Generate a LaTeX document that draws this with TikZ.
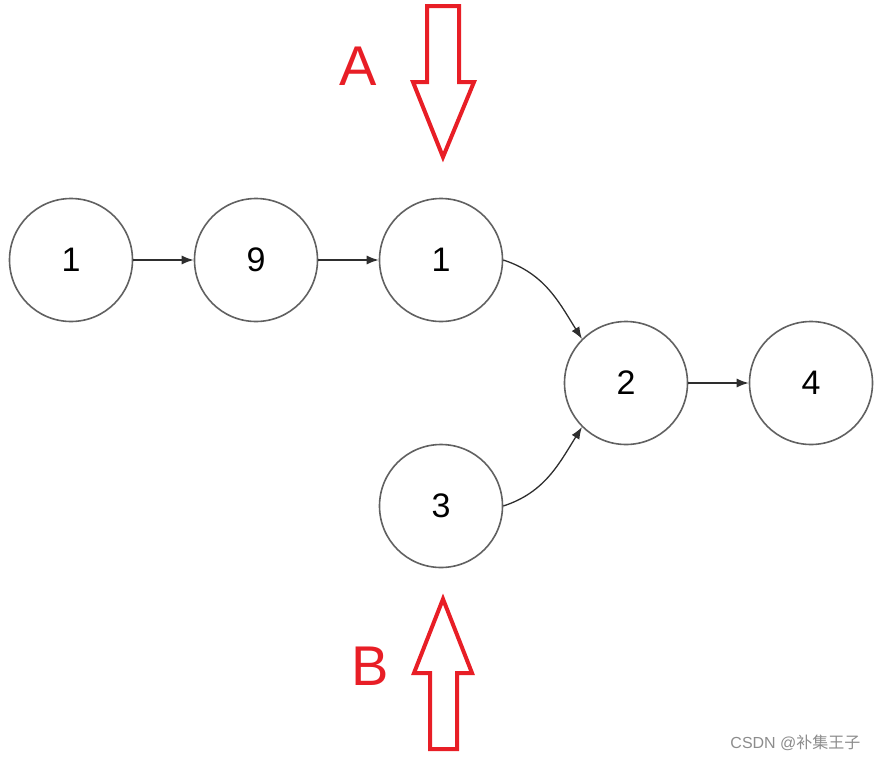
\documentclass[tikz,border=0pt]{standalone}
\usepackage{fontspec}
\setmainfont{Liberation Sans}
\newfontfamily\cjk{Noto Sans CJK SC}
\usetikzlibrary{arrows.meta}
\definecolor{markred}{RGB}{232,30,38}

\begin{document}
\begin{tikzpicture}[x=1pt, y=-1pt,
  ring/.style={circle, draw=black!62, line width=1.6pt, minimum size=123pt, inner sep=0pt,
    font=\fontsize{34}{34}\selectfont},
  link/.style={-{Latex[length=12pt,width=9pt]}, draw=black!82, line width=1.3pt},
  pointer/.style={draw=markred, line width=4pt, line join=miter},
  letter/.style={text=markred, font=\fontsize{56}{56}\selectfont}]
  \useasboundingbox (0,0) rectangle (879,761);
  % list nodes
  \node[ring] (a) at (71,260) {1};
  \node[ring] (b) at (256,260) {9};
  \node[ring] (c) at (441,260) {1};
  \node[ring] (d) at (626,383) {2};
  \node[ring] (e) at (811,383) {4};
  \node[ring] (f) at (441,506) {3};
  \draw[link] (a) -- (b);
  \draw[link] (b) -- (c);
  \draw[link] (d) -- (e);
  \draw[link] (c.east) to[out=-18, in=122] (d.135);
  \draw[link] (f.east) to[out=18, in=-122] (d.225);
  % pointers A and B
  \node[letter] (labA) at (358,66) {A};
  \node[letter] (labB) at (370,666) {B};
  \draw[pointer] (427,6) -- (459,6) -- (459,82) -- (474,82) -- (443,157) -- (413,82)
    -- (427,82) -- cycle;
  \draw[pointer] (443,599) -- (472,673) -- (457,673) -- (457,749) -- (430,749) -- (430,673)
    -- (414,673) -- cycle;
  \node[anchor=east, text=black!45, font=\fontsize{16}{16}\selectfont] (mark) at (864,743)
    {CSDN @{\cjk 补集王子}};
\end{tikzpicture}
\end{document}
